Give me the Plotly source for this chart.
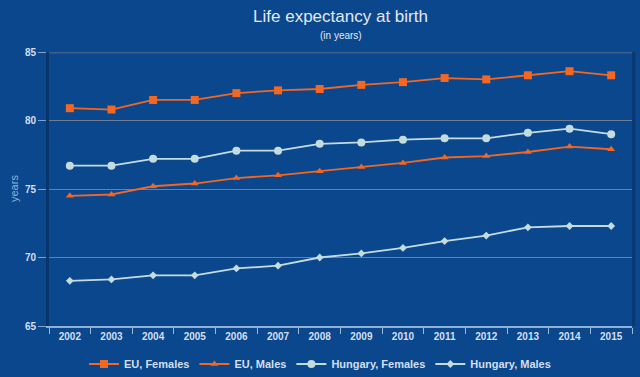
import plotly.graph_objects as go

years = ["2002", "2003", "2004", "2005", "2006", "2007", "2008",
         "2009", "2010", "2011", "2012", "2013", "2014", "2015"]
eu_females = [80.9, 80.8, 81.5, 81.5, 82.0, 82.2, 82.3, 82.6, 82.8, 83.1, 83.0, 83.3, 83.6, 83.3]
eu_males = [74.5, 74.6, 75.2, 75.4, 75.8, 76.0, 76.3, 76.6, 76.9, 77.3, 77.4, 77.7, 78.1, 77.9]
hu_females = [76.7, 76.7, 77.2, 77.2, 77.8, 77.8, 78.3, 78.4, 78.6, 78.7, 78.7, 79.1, 79.4, 79.0]
hu_males = [68.3, 68.4, 68.7, 68.7, 69.2, 69.4, 70.0, 70.3, 70.7, 71.2, 71.6, 72.2, 72.3, 72.3]

BG = "#0a478d"
ORANGE = "#f26722"
LIGHT = "#c5dcdf"
TXT = "#d3dff0"

fig = go.Figure()
series = [
    ("EU, Females", eu_females, ORANGE, "square", 8),
    ("EU, Males", eu_males, ORANGE, "triangle-up", 7),
    ("Hungary, Females", hu_females, LIGHT, "circle", 8),
    ("Hungary, Males", hu_males, LIGHT, "diamond", 6),
]
for name, vals, col, sym, sz in series:
    fig.add_trace(go.Scatter(
        x=years, y=vals, name=name, mode="lines+markers",
        line=dict(color=col, width=1.8),
        marker=dict(symbol=sym, size=sz, color=col),
    ))

fig.update_layout(
    width=640, height=377,
    paper_bgcolor=BG, plot_bgcolor=BG,
    margin=dict(l=49, r=8, t=52, b=51, autoexpand=False),
    font=dict(family="Liberation Sans, Arial, sans-serif", color=TXT, size=11),
    title=dict(
        text="Life expectancy at birth",
        x=0.5, xanchor="center", xref="paper", y=1 - 16 / 377, yref="container", yanchor="middle",
        font=dict(size=17, color="#e2e8f0"),
    ),
    annotations=[
        dict(text="(in years)", x=0.5, xref="paper", xanchor="center",
             y=1, yref="paper", yanchor="bottom", yshift=9, showarrow=False,
             font=dict(size=10, color="#e2e8f0")),
        dict(text="years", x=0, xref="paper", xanchor="center", xshift=-35,
             y=0.5, yref="paper", yanchor="middle", textangle=-90, showarrow=False,
             font=dict(size=11, color="#8fb0d8")),
    ],
    shapes=[
        dict(type="line", xref="paper", yref="y", x0=0, x1=1, y0=85, y1=85,
             line=dict(color="#3f5f86", width=3), layer="above"),
        dict(type="line", xref="paper", yref="paper", x0=1.003, x1=1.003, y0=0, y1=1,
             line=dict(color="#08386e", width=3), layer="above"),
    ],
    showlegend=True,
    legend=dict(orientation="h", x=0.5, xanchor="center", xref="container",
                y=13 / 377, yref="container", yanchor="middle",
                font=dict(size=11, color=TXT, weight="bold"), bgcolor="rgba(0,0,0,0)"),
    xaxis=dict(
        type="category", showgrid=False, ticks="outside", tickson="boundaries",
        ticklen=6, tickcolor="#9ab8d8", showline=True, linecolor="#8fb0d4", linewidth=2,
        tickfont=dict(size=10, color=TXT, weight="bold"), range=[-0.5, 13.5],
        automargin=False,
    ),
    yaxis=dict(
        range=[65, 85], dtick=5, showgrid=True, gridcolor="#6e7f95", gridwidth=1,
        ticks="outside", ticklen=8, tickcolor="#7fa3cc", zeroline=False,
        showline=True, linecolor="#08356a", linewidth=3,
        tickfont=dict(size=10, color=TXT, weight="bold"),
        automargin=False,
    ),
)

fig.write_html("out.html", config={"displayModeBar": False},
               post_script="document.body.style.margin='0';")
